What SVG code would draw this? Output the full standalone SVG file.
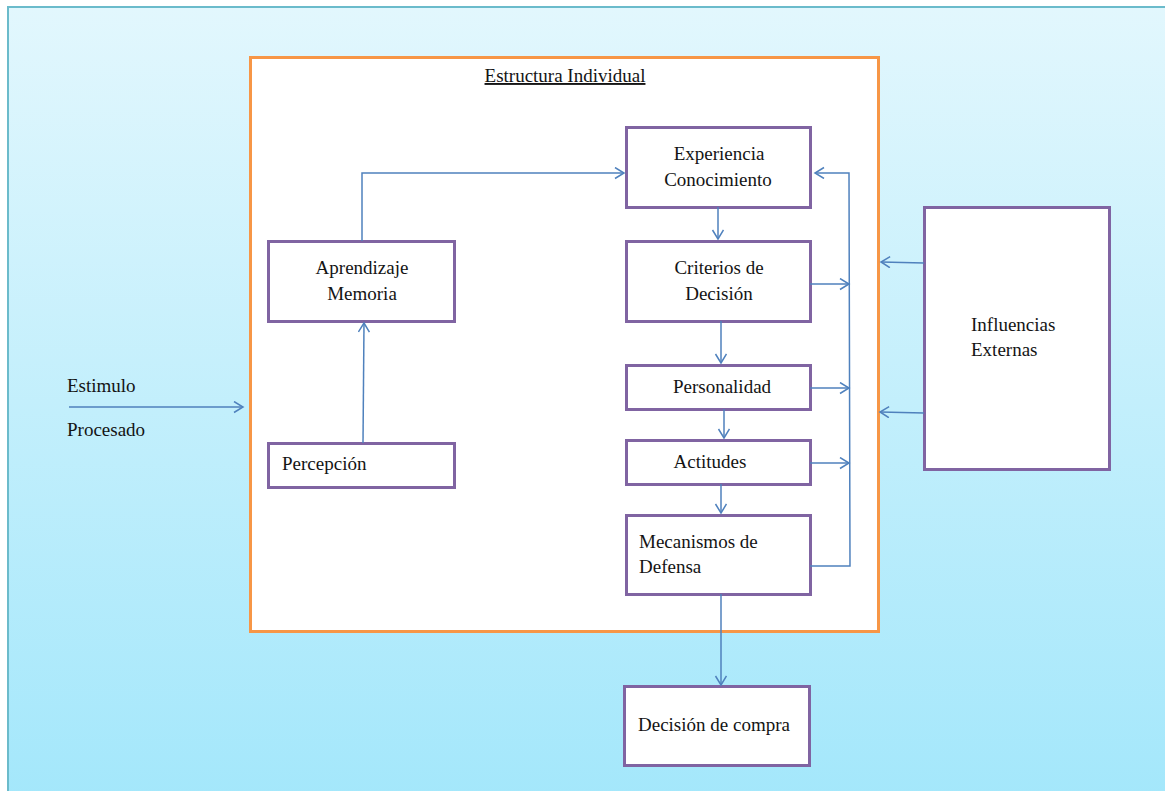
<svg xmlns="http://www.w3.org/2000/svg" width="1165" height="791" viewBox="0 0 1165 791">
  <defs>
    <linearGradient id="bg" x1="0" y1="0" x2="0" y2="1">
      <stop offset="0" stop-color="#E2F7FD"/>
      <stop offset="1" stop-color="#A3E7FB"/>
    </linearGradient>
    <marker id="arr" markerUnits="userSpaceOnUse" markerWidth="14" markerHeight="14" refX="10" refY="6" orient="auto">
      <path d="M1,0.5 L10,6 L1,11.5" fill="none" stroke="#4F81BD" stroke-width="1.5"/>
    </marker>
  </defs>
  <style>
    .box { fill: #FFFFFF; stroke: #8064A2; stroke-width: 3; }
    .frame { fill: #FFFFFF; stroke: #F79646; stroke-width: 3; }
    .link { fill: none; stroke: #4F81BD; stroke-width: 1.5; }
    .mid { text-anchor: middle; }
  </style>

  <!-- page background -->
  <rect x="8" y="7" width="1170" height="800" fill="url(#bg)" stroke="#6BBBCB" stroke-width="2"/>

  <g font-family="Liberation Serif, Tinos, Times New Roman, DejaVu Serif, serif" font-size="19" fill="#141414">
  <!-- individual structure frame -->
  <g id="estructura">
    <rect class="frame" x="250.5" y="57.5" width="628" height="574"/>
    <text class="mid" x="565" y="82" text-decoration="underline">Estructura Individual</text>
  </g>

  <g id="experiencia">
    <rect class="box" x="626.5" y="127.5" width="184" height="80"/>
    <text class="mid" x="719" y="160">Experiencia</text>
    <text class="mid" x="718" y="186">Conocimiento</text>
  </g>
  <g id="criterios">
    <rect class="box" x="626.5" y="241.5" width="184" height="80"/>
    <text class="mid" x="719" y="274">Criterios de</text>
    <text class="mid" x="719" y="300">Decisión</text>
  </g>
  <g id="personalidad">
    <rect class="box" x="626.5" y="365.5" width="184" height="44"/>
    <text class="mid" x="722" y="393">Personalidad</text>
  </g>
  <g id="actitudes">
    <rect class="box" x="626.5" y="440.5" width="184" height="44"/>
    <text class="mid" x="710" y="468">Actitudes</text>
  </g>
  <g id="mecanismos">
    <rect class="box" x="626.5" y="515.5" width="184" height="79"/>
    <text x="639" y="548">Mecanismos de</text>
    <text x="639" y="573">Defensa</text>
  </g>
  <g id="aprendizaje">
    <rect class="box" x="268.5" y="241.5" width="186" height="80"/>
    <text class="mid" x="362" y="274">Aprendizaje</text>
    <text class="mid" x="362" y="300">Memoria</text>
  </g>
  <g id="percepcion">
    <rect class="box" x="268.5" y="443.5" width="186" height="44"/>
    <text x="282" y="470">Percepción</text>
  </g>
  <g id="influencias">
    <rect class="box" x="924.5" y="207.5" width="185" height="262"/>
    <text x="971" y="331">Influencias</text>
    <text x="971" y="356">Externas</text>
  </g>
  <g id="decision">
    <rect class="box" x="624.5" y="686.5" width="185" height="79"/>
    <text x="638" y="731">Decisión de compra</text>
  </g>

  <g id="estimulo">
    <text x="67" y="392">Estimulo</text>
    <text x="67" y="436">Procesado</text>
  </g>
  </g>

  <!-- connectors -->
  <g id="connectors">
    <path class="link" d="M69,407 H243" marker-end="url(#arr)"/>
    <path class="link" d="M363,443 L364,323" marker-end="url(#arr)"/>
    <path class="link" d="M362,241 V173 H624" marker-end="url(#arr)"/>
    <path class="link" d="M718,207 V239" marker-end="url(#arr)"/>
    <path class="link" d="M721,321 V363" marker-end="url(#arr)"/>
    <path class="link" d="M724,409 V438" marker-end="url(#arr)"/>
    <path class="link" d="M721,484 V513" marker-end="url(#arr)"/>
    <path class="link" d="M721,594 V685" marker-end="url(#arr)"/>
    <!-- feedback rail on the right of the column -->
    <path class="link" d="M810,566 H850 L849,173 H815" marker-end="url(#arr)"/>
    <path class="link" d="M810,284 H849" marker-end="url(#arr)"/>
    <path class="link" d="M810,388 H849" marker-end="url(#arr)"/>
    <path class="link" d="M810,463 H849" marker-end="url(#arr)"/>
    <!-- external influences into the frame -->
    <path class="link" d="M924,263 L881,262" marker-end="url(#arr)"/>
    <path class="link" d="M924,413 L880,412" marker-end="url(#arr)"/>
  </g>
</svg>
